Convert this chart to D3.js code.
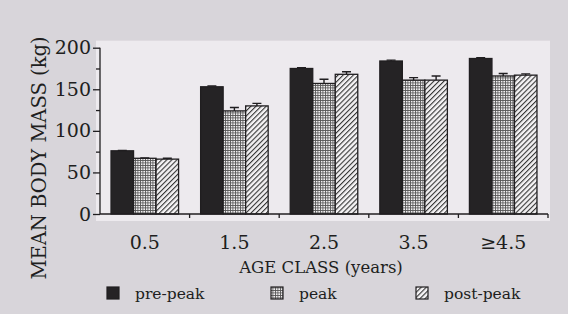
<!DOCTYPE html>
<html><head><meta charset="utf-8">
<script src="https://cdn.jsdelivr.net/npm/d3@7"></script>
<style>
html,body{margin:0;padding:0;background:#d8d5da;}
svg{display:block;}
</style></head>
<body>
<svg id="chart" width="568" height="314"></svg>
<script>
const categories = ["0.5", "1.5", "2.5", "3.5", "≥4.5"];
const seriesNames = ["pre-peak", "peak", "post-peak"];
const prePeak  = [76, 153, 175, 184, 187];
const peak     = [67, 124, 157, 161, 166];
const postPeak = [66, 130, 168, 161, 167];
const preErr   = [0.5, 1, 1, 1, 1];
const peakErr  = [0.5, 4, 5, 3, 3];
const postErr  = [1, 3, 3, 5, 1.5];
const yTicks = [0, 50, 100, 150, 200];
const yMinorTicks = [25, 75, 125, 175];

(function () {
const values = [prePeak, peak, postPeak];
const errors = [preErr, peakErr, postErr];

const svg = d3.select("#chart");
const font = "'DejaVu Serif', serif";
const ink = "#201e20";

const defs = svg.append("defs");
const grid = defs.append("pattern").attr("id","gridPat").attr("patternUnits","userSpaceOnUse")
  .attr("width",2.5).attr("height",2.5);
grid.append("rect").attr("width",2.5).attr("height",2.5).attr("fill","#f4f2f4");
grid.append("path").attr("d","M0,0.4H2.5M0.4,0V2.5").attr("stroke","#555").attr("stroke-width",0.9);
const hatch = defs.append("pattern").attr("id","hatchPat").attr("patternUnits","userSpaceOnUse")
  .attr("width",3.6).attr("height",3.6).attr("patternTransform","rotate(45)");
hatch.append("rect").attr("width",3.6).attr("height",3.6).attr("fill","#f4f2f4");
hatch.append("line").attr("x1",0).attr("y1",0).attr("x2",0).attr("y2",3.6).attr("stroke","#333").attr("stroke-width",2.2);

const fills = ["#252325", "url(#gridPat)", "url(#hatchPat)"];

const pLeft = 100, pRight = 548, pTop = 47.7, pBottom = 214;
const x0 = d3.scaleBand().domain(categories).range([pLeft, pRight]).paddingInner(0).paddingOuter(0);
const x1 = d3.scaleBand().domain(seriesNames).range([0, x0.bandwidth()]).paddingInner(0).paddingOuter(0.49);
const y = d3.scaleLinear().domain([0, 200]).range([pBottom, pTop]);

// lighter plot region (scan)
svg.append("rect").attr("x", pLeft - 4).attr("y", pTop - 7).attr("width", pRight - pLeft + 6).attr("height", pBottom - pTop + 14)
  .attr("fill", "#edeaee");

// bars
seriesNames.forEach((s, si) => {
  const g = svg.append("g");
  g.selectAll("rect").data(categories).join("rect")
    .attr("x", c => x0(c) + x1(s))
    .attr("y", (c, i) => y(values[si][i]))
    .attr("width", x1.bandwidth())
    .attr("height", (c, i) => y(0) - y(values[si][i]))
    .attr("fill", fills[si])
    .attr("stroke", ink).attr("stroke-width", 1.3);
  g.selectAll("path.err").data(categories).join("path").attr("class","err")
    .attr("d", (c, i) => {
      const cx = x0(c) + x1(s) + x1.bandwidth() / 2;
      const yt = y(values[si][i] + errors[si][i]);
      const yb = y(values[si][i]);
      return `M${cx},${yb}V${yt}M${cx-4.5},${yt}H${cx+4.5}`;
    })
    .attr("stroke", ink).attr("stroke-width", 1.4).attr("fill","none");
});

// y axis
const yAxis = svg.append("g").attr("transform", `translate(${pLeft},0)`)
  .call(d3.axisLeft(y).tickValues(yTicks).tickSize(7).tickPadding(2).tickFormat(d3.format("d")));
const yMinor = svg.append("g").attr("transform", `translate(${pLeft},0)`)
  .call(d3.axisLeft(y).tickValues(yMinorTicks).tickSize(4).tickFormat(""));
yMinor.select(".domain").remove();
yAxis.select(".domain").attr("stroke", ink).attr("stroke-width", 1.3).attr("d", `M0,${pTop}V${pBottom}`);
svg.selectAll(".tick line").attr("stroke", ink).attr("stroke-width", 1.3);
yAxis.selectAll("text").attr("font-family", font).attr("font-size", 19).attr("fill", ink);

// x axis
const xAxis = svg.append("g").attr("transform", `translate(0,${pBottom})`);
xAxis.append("line").attr("x1", pLeft).attr("x2", pRight).attr("y1", 0).attr("y2", 0)
  .attr("stroke", ink).attr("stroke-width", 1.3);
const bounds = categories.map(c => x0(c) + x0.bandwidth());
xAxis.selectAll("line.tk").data(bounds).join("line").attr("class","tk")
  .attr("x1", d => d).attr("x2", d => d).attr("y1", 0).attr("y2", 4)
  .attr("stroke", ink).attr("stroke-width", 1.3);
xAxis.selectAll("text").data(categories).join("text")
  .attr("x", c => x0(c) + x0.bandwidth() / 2).attr("y", 35)
  .attr("text-anchor", "middle").attr("font-family", font).attr("font-size", 19).attr("fill", ink)
  .text(c => c);

// axis titles
svg.append("text").attr("x", 321).attr("y", 273).attr("text-anchor", "middle")
  .attr("font-family", font).attr("font-size", 16.5).attr("fill", ink).text("AGE CLASS (years)");
svg.append("text").attr("transform", "translate(46,158) rotate(-90)").attr("text-anchor", "middle")
  .attr("font-family", font).attr("font-size", 19.5).attr("fill", ink).text("MEAN BODY MASS (kg)");

// legend
const legX = [107, 271, 416];
const leg = svg.append("g");
seriesNames.forEach((s, i) => {
  leg.append("rect").attr("x", legX[i]).attr("y", 287).attr("width", 12).attr("height", 12)
    .attr("fill", fills[i]).attr("stroke", ink).attr("stroke-width", 1.2);
  leg.append("text").attr("x", legX[i] + 28).attr("y", 299)
    .attr("font-family", font).attr("font-size", 15.5).attr("fill", ink).text(s);
});
})();
</script>
</body></html>
